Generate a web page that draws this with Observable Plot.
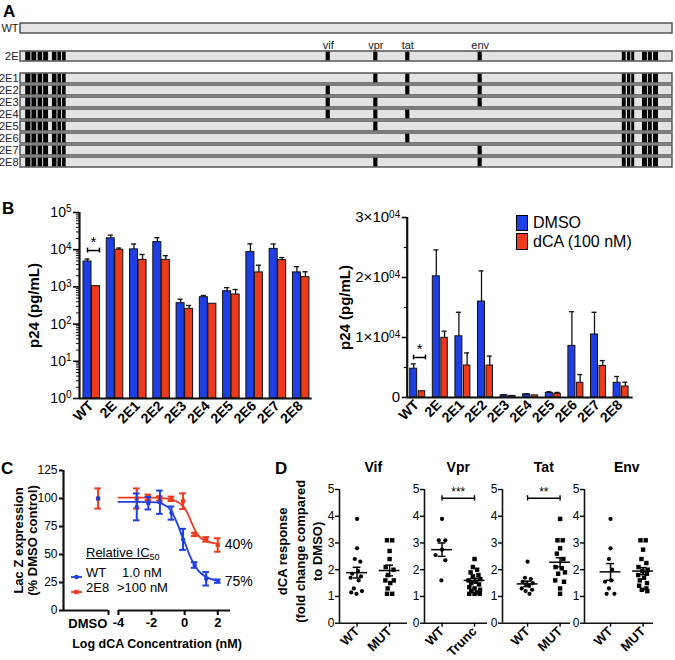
<!DOCTYPE html>
<html><head><meta charset="utf-8">
<script src="https://cdn.jsdelivr.net/npm/d3@7"></script>
<script src="https://cdn.jsdelivr.net/npm/@observablehq/plot@0.6"></script>
<style>
body{margin:0;background:#fff;}
#fig{position:relative;width:675px;height:660px;font-family:"Liberation Sans",Arial,Helvetica,sans-serif;color:#000;overflow:hidden;background:#fff}
#fig svg{position:absolute;}
.plab{position:absolute;font-weight:bold;font-size:17px;line-height:1}
.html{position:absolute;white-space:nowrap;line-height:1}
.pa g[aria-label="y-axis tick label"], .pa g[aria-label="y-axis tick label"] text{font-size:11px !important;}
.bl g[aria-label="y-axis tick label"], .bl g[aria-label="y-axis tick label"] text{font-size:14px !important;}
.bl g[aria-label="x-axis tick label"], .bl g[aria-label="x-axis tick label"] text{font-size:14px !important;font-weight:bold !important;}
.br g[aria-label="y-axis tick label"], .br g[aria-label="y-axis tick label"] text{font-size:15px !important;}
.br g[aria-label="x-axis tick label"], .br g[aria-label="x-axis tick label"] text{font-size:14px !important;font-weight:bold !important;}
.pc g[aria-label="y-axis tick label"], .pc g[aria-label="y-axis tick label"] text{font-size:12px !important;}
.pc g[aria-label="x-axis tick label"], .pc g[aria-label="x-axis tick label"] text{font-size:13px !important;font-weight:bold !important;}
.pd g[aria-label="y-axis tick label"], .pd g[aria-label="y-axis tick label"] text{font-size:12px !important;}
.pd g[aria-label="x-axis tick label"], .pd g[aria-label="x-axis tick label"] text{font-size:13px !important;font-weight:bold !important;}
tspan.sup{font-size:10px;}
</style></head><body><div id="fig"></div>
<script>
// ---------------- DATA ----------------
// Panel A: genome maps
const aRows = ["2E1","2E2","2E3","2E4","2E5","2E6","2E7","2E8"];
const aGenes = ["vif","vpr","tat","env"];
const aGenePos = [472, 545, 594, 705];               // position on a 0–1000 map scale
const aRowMutations = [["vpr","tat","env"],["vif","tat","env"],["vif","vpr","env"],["vif","vpr","tat"],["vpr"],["tat"],["env"],["vpr","env"]];
const aStripesLeft = [[8,16],[17.5,25],[27,34],[35.5,43],[49,56],[57.5,63],[64.5,70]];
const aStripesRight = [[923,929],[931,936],[937.5,942],[954,961.5],[963,969],[971,978.5]];

// Panel B: p24 (pg/mL)
const groups = ["WT","2E","2E1","2E2","2E3","2E4","2E5","2E6","2E7","2E8"];
const p24DMSO    = [4800, 20200, 10200, 16000, 365, 528, 765, 8600, 10500, 2450];
const p24DMSOErr = [800, 4400, 4000, 5100, 100, 60, 190, 5700, 3700, 1050];
const p24DCA     = [1050, 9950, 5330, 5330, 257, 352, 625, 2450, 5250, 1830];
const p24DCAErr  = [0, 1100, 2100, 1570, 60, 0, 225, 1380, 900, 720];
const bSeries = ["DMSO", "dCA (100 nM)"];
const bLogTicks = [1, 10, 100, 1000, 10000, 100000];
const bLinTicks = [0, 10000, 20000, 30000];
const bLinMinor = [5000, 15000, 25000];

// Panel C: Lac Z expression (% DMSO control)
const logConc   = [-2.893, -2.194, -1.495, -0.796, -0.097, 0.602, 1.301, 2.0];
const wtLacZ    = [92.5, 95.8, 96.7, 87, 63.5, 40.6, 28.3, 26.2];
const wtLacZErr = [12, 5.6, 10.4, 5.9, 9.4, 2.5, 6, 1.5];
const e8LacZ    = [100, 101, 100, 99.7, 97.6, 67.9, 63.5, 58.5];
const e8LacZErr = [9, 2.5, 2, 2, 7, 1.5, 2, 6];
const dmsoLacZ    = [100, 100];   // WT, 2E8
const dmsoLacZErr = [0, 9];
const fitX  = [-4, -3, -2, -1.5, -1.2, -1, -0.8, -0.6, -0.4, -0.2, 0, 0.2, 0.4, 0.6, 0.8, 1, 1.3, 1.6, 2];
const fitWT = [97, 97, 96.8, 96, 94, 92, 88.5, 83, 76, 68, 61, 53, 46, 40.5, 36, 33, 30, 28, 27];
const fitE8 = [100.8, 100.8, 100.7, 100.5, 100.2, 99.7, 99, 98, 96.6, 94.5, 91.5, 86, 79, 72.5, 67.5, 64.5, 62, 60.5, 59.5];
const cXTicks = [-4, -2, 0, 2];
const cYTicks = [0, 25, 50, 75, 100, 125];
const cPctLabels = ["75%", "40%"];

// Panel D: dCA response (fold change compared to DMSO)
const dPanels = ["Vif","Vpr","Tat","Env"];
const dGroups = [["WT","MUT"],["WT","Trunc"],["WT","MUT"],["WT","MUT"]];
const vifWT    = [3.9,2.8,2.4,2.3,1.95,1.85,1.75,1.7,1.6,1.3,1.2,1.15,1.1];
const vifMUT   = [3.1,3.1,2.7,2.4,2.1,2.0,1.8,1.6,1.6,1.5,1.3,1.1,1.1];
const vprWT    = [3.9,3.1,3.1,2.75,2.55,2.35,1.6];
const vprTrunc = [2.4,2.1,2.0,1.9,1.8,1.75,1.65,1.6,1.55,1.5,1.45,1.35,1.3,1.25,1.2,1.15,1.1,1.1,1.1];
const tatWT    = [2.3,1.7,1.65,1.55,1.5,1.45,1.4,1.3,1.25,1.2,1.1];
const tatMUT   = [3.9,3.1,3.1,2.8,2.6,2.4,2.1,2.05,1.9,1.85,1.6,1.55,1.3,1.1];
const envWT    = [3.9,2.8,2.4,2.0,1.6,1.55,1.3,1.1,1.1];
const envMUT   = [3.1,3.1,2.75,2.4,2.25,2.1,2.0,1.95,1.85,1.8,1.7,1.6,1.5,1.4,1.3,1.25,1.2];
const dMean = [[1.89,1.97],[2.75,1.6],[1.47,2.28],[1.92,1.95]];
const dSEM  = [[0.2,0.2],[0.25,0.08],[0.1,0.17],[0.31,0.13]];
const dSig  = ["", "***", "**", ""];
const dYTicks = [0,1,2,3,4,5];

// ---------------- LAYOUT ----------------
// horizontal scatter of the dots (category units)
const dSpread = [
  [[0,0,-0.07,0.1,0.03,-0.15,0.12,-0.2,0.05,-0.1,0.15,-0.18,-0.02],[-0.08,0.08,0,0,-0.12,0.12,-0.05,-0.13,0.13,0.02,-0.06,-0.08,0.08]],
  [[0,-0.1,0.1,0,-0.2,0.1,-0.02],[0,-0.05,0.08,-0.12,0.12,-0.05,0.18,-0.18,0.05,-0.1,0.14,-0.16,0,0.17,-0.1,0.08,-0.16,0,0.16]],
  [[0,-0.08,0.1,-0.15,0.16,-0.04,0.05,-0.18,0.14,-0.06,0.06],[0,-0.08,0.08,0,-0.1,0.1,-0.14,0.05,0.15,-0.06,-0.15,0.12,0,0]],
  [[0,0,-0.05,0.05,0.02,-0.17,-0.05,-0.12,0.12],[-0.08,0.08,0,-0.05,0.1,-0.14,0.14,-0.02,0.12,-0.15,0.03,-0.1,0.12,-0.12,0.1,-0.04,0.13]]
];
const BLUE = "#1e3fe4", RED = "#ec3a1d", INK = "#111";
const FONT = "'Liberation Sans', Arial, Helvetica, sans-serif";
const baseStyle = {background: "transparent", fontFamily: FONT, overflow: "visible", color: "#000"};
const fig = document.getElementById("fig");
function place(el, left, top) { el.style.left = left + "px"; el.style.top = top + "px"; fig.appendChild(el); }
function html(s, left, top, css) { const d = document.createElement("div"); d.className = "html"; d.innerHTML = s; d.style.cssText += css || ""; place(d, left, top); return d; }
const vlabel = (s, dx, size, dy = 0) => Plot.text([s], {text: d => d, frameAnchor: "left", textAnchor: "middle", lineAnchor: "middle", rotate: -90, dx, dy, fontSize: size, fontWeight: "bold"});
// tick labels written as "base^exp" are turned into real superscripts after rendering
function superscripts(svg) {
  const ns = "http://www.w3.org/2000/svg";
  svg.querySelectorAll('g[aria-label="y-axis tick label"] text').forEach(t => {
    const s = t.textContent;
    if (!s.includes("^")) return;
    const [base, exp] = s.split("^");
    t.textContent = "";
    const a = document.createElementNS(ns, "tspan"); a.textContent = base; t.appendChild(a);
    const b = document.createElementNS(ns, "tspan"); b.textContent = exp; b.setAttribute("class", "sup"); b.setAttribute("dy", "-0.45em"); t.appendChild(b);
  });
  return svg;
}

// panel letters
[["A",3,3],["B",2,200],["C",1,460],["D",275,460]].forEach(([t,l,tp]) => { const d = document.createElement("div"); d.className = "plab"; d.textContent = t; place(d, l, tp); });

// ---------------- PANEL A ----------------
function aPlot(rows, muts, stripes, top, mt, mb, bandH, geneLabels) {
  const n = rows.length;
  const height = mt + mb + (n === 1 ? bandH : n * 12.5);
  const recs = rows.map(r => ({row: r}));
  const st = stripes ? rows.flatMap(r => [...aStripesLeft, ...aStripesRight].map(([a, b]) => ({row: r, a, b}))) : [];
  const mu = rows.flatMap((r, k) => muts[k].map(g => ({row: r, p: aGenePos[aGenes.indexOf(g)]})));
  const marks = [
    Plot.barX(recs, {y: "row", x1: () => 0, x2: () => 1000, fill: "#e3e3e3", stroke: "#4a4a4a", strokeWidth: 1.4}),
    Plot.barX(st, {y: "row", x1: "a", x2: "b", fill: "#000", insetTop: 0.7, insetBottom: 0.7}),
    Plot.barX(mu, {y: "row", x1: d => d.p - 3.2, x2: d => d.p + 3.2, fill: "#000", insetTop: 0.7, insetBottom: 0.7}),
    Plot.axisY({tickSize: 0, tickPadding: 2, fontSize: 11, fill: "#222", label: null})
  ];
  if (geneLabels) marks.push(Plot.text(aGenes, {x: (d, i) => aGenePos[i], y: () => rows[0], dy: -11, text: d => d, fontSize: 11, fill: "#222"}));
  const svg = Plot.plot({
    className: "pa",
    width: 675, height, marginLeft: 20, marginRight: 3, marginTop: mt, marginBottom: mb,
    style: baseStyle,
    x: {domain: [0, 1000], axis: null},
    y: {domain: rows, paddingInner: n === 1 ? 0 : 0.2, paddingOuter: n === 1 ? 0 : 0.1},
    marks
  });
  place(svg, 0, top);
}
aPlot(["WT"], [[]], false, 18, 5, 5, 10, false);
aPlot(["2E"], [aGenes], true, 36, 15, 3, 10, true);
aPlot(aRows, aRowMutations, true, 66, 3.75, 3, 0, false);

// ---------------- PANEL B ----------------
function bRecords(k) {
  const v = k === 0 ? p24DMSO : p24DCA, e = k === 0 ? p24DMSOErr : p24DCAErr;
  return groups.map((g, i) => ({g, i, v: v[i], e: e[i]}));
}
function barMarks(ext, capHalf, base) {
  const marks = [];
  [0, 1].forEach(k => {
    const recs = bRecords(k), [a, b] = ext[k], c = (a + b) / 2, fill = k === 0 ? BLUE : RED;
    marks.push(Plot.rectY(recs, {x1: d => d.i + a, x2: d => d.i + b, y1: () => base, y2: "v", fill, stroke: INK, strokeWidth: 1}));
    const er = recs.filter(d => d.e > 0);
    marks.push(Plot.ruleX(er, {x: d => d.i + c, y1: "v", y2: d => d.v + d.e, stroke: INK, strokeWidth: 1.3}));
    marks.push(Plot.ruleY(er, {y: d => d.v + d.e, x1: d => d.i + c - capHalf, x2: d => d.i + c + capHalf, stroke: INK, strokeWidth: 1.3}));
  });
  return marks;
}
const minorLog = [1, 10, 100, 1000, 10000].flatMap(p => [2,3,4,5,6,7,8,9].map(m => m * p));
const bSigLog = 9500, bSigLin = 6670;
const bLeft = Plot.plot({
  className: "bl",
  width: 330, height: 240, marginLeft: 79, marginRight: 18.3, marginTop: 17, marginBottom: 37,
  style: baseStyle,
  x: {type: "linear", domain: [0, 10]},
  y: {type: "log", domain: [1, 100000]},
  marks: [
    ...barMarks([[0.172, 0.516], [0.537, 0.881]], 0.11, 1),
    Plot.ruleY(minorLog, {y: d => d, x1: () => -0.13, x2: () => 0, strokeWidth: 1, stroke: INK}),
    Plot.ruleX([0], {y1: () => 1, y2: () => 100000, strokeWidth: 2.2, stroke: INK}),
    Plot.ruleY([1], {x1: () => 0, x2: () => 10, strokeWidth: 2.2, stroke: INK}),
    Plot.axisY({ticks: bLogTicks, tickFormat: d => "10^" + Math.round(Math.log10(d)), tickSize: 6, tickPadding: 2, fontSize: 14, strokeWidth: 1.6, label: null}),
    Plot.axisX({ticks: groups.map((g, i) => i + 0.5), tickFormat: d => groups[Math.floor(d)], tickRotate: -45, tickSize: 0, tickPadding: 5, fontSize: 14, fontWeight: "bold", label: null}),
    vlabel("p24 (pg/mL)", -45, 15),
    Plot.ruleY([bSigLog], {y: d => d, x1: () => 0.344, x2: () => 0.86, strokeWidth: 1.5}),
    Plot.ruleX([0.344, 0.86], {x: d => d, y1: () => bSigLog * 0.86, y2: () => bSigLog * 1.16, strokeWidth: 1.5}),
    Plot.text(["*"], {text: d => d, x: () => 0.6, y: () => bSigLog, dy: -8, fontSize: 15})
  ]
});
place(superscripts(bLeft), 0, 195);

const bRight = Plot.plot({
  className: "br",
  width: 345, height: 240, marginLeft: 76.7, marginRight: 42.3, marginTop: 22, marginBottom: 38,
  style: baseStyle,
  x: {type: "linear", domain: [0, 10]},
  y: {domain: [0, 30000]},
  marks: [
    ...barMarks([[0.133, 0.442], [0.509, 0.796]], 0.11, 0),
    Plot.ruleY(bLinMinor, {y: d => d, x1: () => -0.13, x2: () => 0, strokeWidth: 1.2, stroke: INK}),
    Plot.ruleX([0], {y1: () => 0, y2: () => 30000, strokeWidth: 2.2, stroke: INK}),
    Plot.ruleY([0], {x1: () => 0, x2: () => 10, strokeWidth: 2.2, stroke: INK}),
    Plot.axisY({ticks: bLinTicks, tickFormat: d => d === 0 ? "0" : `${d / 10000}×10^04`, tickSize: 5, tickPadding: 2, fontSize: 15, strokeWidth: 1.6, label: null}),
    Plot.axisX({ticks: groups.map((g, i) => i + 0.42), tickFormat: d => groups[Math.floor(d)], tickRotate: -45, tickSize: 0, tickPadding: 5, fontSize: 14, fontWeight: "bold", label: null}),
    vlabel("p24 (pg/mL)", -62, 15),
    Plot.ruleY([bSigLin], {y: d => d, x1: () => 0.28, x2: () => 0.81, strokeWidth: 1.5}),
    Plot.ruleX([0.28, 0.81], {x: d => d, y1: () => bSigLin - 400, y2: () => bSigLin + 400, strokeWidth: 1.5}),
    Plot.text(["*"], {text: d => d, x: () => 0.55, y: () => bSigLin, dy: -8, fontSize: 15})
  ]
});
place(superscripts(bRight), 330, 195);

// legend B
html(`<div style="display:flex;align-items:center;height:19px"><span style="display:inline-block;width:10px;height:14px;background:${BLUE};border:1px solid #000;margin-right:5px"></span>${bSeries[0]}</div>
<div style="display:flex;align-items:center;height:19px"><span style="display:inline-block;width:10px;height:15px;background:${RED};border:1px solid #000;margin-right:5px"></span>${bSeries[1]}</div>`, 516, 213, "font-size:16px;");

// ---------------- PANEL C ----------------
const dmsoX = -5.23;
const cWT = logConc.map((x, i) => ({x, m: wtLacZ[i], e: wtLacZErr[i]})).concat([{x: dmsoX, m: dmsoLacZ[0], e: dmsoLacZErr[0]}]);
const cE8 = logConc.map((x, i) => ({x, m: e8LacZ[i], e: e8LacZErr[i]})).concat([{x: dmsoX, m: dmsoLacZ[1], e: dmsoLacZErr[1]}]);
function cMarks(recs, color, symbol, r) {
  const er = recs.filter(d => d.e > 0);
  return [
    Plot.ruleX(er, {x: "x", y1: d => d.m - d.e, y2: d => d.m + d.e, stroke: color, strokeWidth: 2}),
    Plot.ruleY(er, {y: d => d.m - d.e, x1: d => d.x - 0.2, x2: d => d.x + 0.2, stroke: color, strokeWidth: 2}),
    Plot.ruleY(er, {y: d => d.m + d.e, x1: d => d.x - 0.2, x2: d => d.x + 0.2, stroke: color, strokeWidth: 2}),
    Plot.dot(recs, {x: "x", y: "m", fill: color, symbol, r})
  ];
}
const cPlot = Plot.plot({
  className: "pc",
  width: 275, height: 205, marginLeft: 63, marginRight: 45, marginTop: 15, marginBottom: 50,
  style: baseStyle,
  x: {domain: [-7.32, 2.77]},
  y: {domain: [0, 125]},
  marks: [
    Plot.ruleX([-7.32], {y1: () => 0, y2: () => 125, strokeWidth: 2.2, stroke: INK}),
    Plot.ruleY([0], {x1: () => -7.32, x2: () => -4.6, strokeWidth: 2.2, stroke: INK}),
    Plot.ruleY([0], {x1: () => -4, x2: () => 2.77, strokeWidth: 2.2, stroke: INK}),
    Plot.ruleX([-4.6], {y1: () => 0, y2: () => -4.5, strokeWidth: 2, stroke: INK}),
    Plot.axisY({ticks: cYTicks, tickFormat: d => String(d), tickSize: 4, tickPadding: 2, fontSize: 12, strokeWidth: 2, label: null}),
    Plot.axisX({ticks: cXTicks, tickFormat: d => String(d), tickSize: 5, tickPadding: 2, fontSize: 13, fontWeight: "bold", strokeWidth: 2, label: null}),
    Plot.text(["DMSO"], {text: d => d, x: () => -5.85, frameAnchor: "bottom", lineAnchor: "middle", dy: 13, fontSize: 13, fontWeight: "bold"}),
    Plot.line(fitX.map((x, i) => ({x, y: fitE8[i]})), {x: "x", y: "y", stroke: RED, strokeWidth: 1.8, curve: "monotone-x"}),
    Plot.line(fitX.map((x, i) => ({x, y: fitWT[i]})), {x: "x", y: "y", stroke: BLUE, strokeWidth: 1.8, curve: "monotone-x"}),
    ...cMarks(cE8, RED, "square", 2.4),
    ...cMarks(cWT, BLUE, "circle", 2.2),
    Plot.text([{x: logConc[7], y: wtLacZ[7], t: cPctLabels[0]}, {x: logConc[7], y: e8LacZ[7], t: cPctLabels[1]}], {x: "x", y: "y", text: "t", dx: 7, textAnchor: "start", fontSize: 14}),
    vlabel("Lac Z expression", -45, 13),
    vlabel("(% DMSO control)", -31, 13),
    Plot.text(["Log dCA Concentration (nM)"], {text: d => d, frameAnchor: "bottom", lineAnchor: "middle", dy: 33, dx: 10, fontSize: 12.5, fontWeight: "bold"})
  ]
});
place(cPlot, 0, 455);

// legend C
html(`<span style="text-decoration:underline">Relative IC<span style="font-size:9px;position:relative;top:3px">50</span></span>`, 86, 546, "font-size:13px;");
html(`<svg width="12" height="8" style="position:static;display:inline-block;vertical-align:middle"><line x1="0" x2="11" y1="4" y2="4" stroke="${BLUE}" stroke-width="1.8"/><circle cx="5.5" cy="4" r="2.3" fill="${BLUE}"/></svg>`, 71, 568);
html(`<svg width="12" height="8" style="position:static;display:inline-block;vertical-align:middle"><line x1="0" x2="11" y1="4" y2="4" stroke="${RED}" stroke-width="1.8"/><rect x="3.3" y="1.8" width="4.4" height="4.4" fill="${RED}"/></svg>`, 71, 583);
html("WT", 86, 566, "font-size:13px;");
html("1.0 nM", 122, 566, "font-size:13px;");
html("2E8", 86, 581, "font-size:13px;");
html("&gt;100 nM", 117, 581, "font-size:13px;");

// ---------------- PANEL D ----------------
const dValues = [[vifWT, vifMUT], [vprWT, vprTrunc], [tatWT, tatMUT], [envWT, envMUT]];
const dFrames = [ // svg left, marginLeft, x-range end (page), domain
  [270, 69, 407, [0.46, 2.55]],
  [400, 24, 487, [0.46, 2.4]],
  [480, 22, 570, [0.23, 2.32]],
  [560, 24, 653, [0.2, 2.32]]
];
dPanels.forEach((name, k) => {
  const [left, mL, end, dom] = dFrames[k];
  const width = end + 6 - left;
  const pts = [0, 1].flatMap(j => dValues[k][j].map((v, n) => ({j: j + 1, v, o: dSpread[k][j][n]})));
  const stats = [0, 1].map(j => ({c: j + 1, m: dMean[k][j], s: dSEM[k][j]}));
  const marks = [
    Plot.ruleX([dom[0]], {y1: () => 0, y2: () => 5, strokeWidth: 1.6, stroke: INK}),
    Plot.ruleY([0], {x1: () => dom[0], x2: () => dom[1], strokeWidth: 1.6, stroke: INK}),
    Plot.axisY({ticks: dYTicks, tickFormat: d => String(d), tickSize: 4, tickPadding: 1, fontSize: 12, strokeWidth: 1.4, label: null}),
    Plot.axisX({ticks: [1, 2], tickFormat: d => dGroups[k][d - 1], tickRotate: -45, tickSize: 4, tickPadding: 2, fontSize: 13, fontWeight: "bold", strokeWidth: 1.4, label: null}),
    Plot.dot(pts.filter(d => d.j === 1), {x: d => d.j + d.o, y: "v", fill: "#000", symbol: "circle", r: 2.1}),
    Plot.dot(pts.filter(d => d.j === 2), {x: d => d.j + d.o, y: "v", fill: "#000", symbol: "square", r: 2.5}),
    Plot.ruleY(stats, {y: "m", x1: d => d.c - 0.32, x2: d => d.c + 0.32, strokeWidth: 1.5}),
    Plot.ruleX(stats, {x: "c", y1: d => d.m - d.s, y2: d => d.m + d.s, strokeWidth: 1.5}),
    Plot.ruleY(stats, {y: d => d.m - d.s, x1: d => d.c - 0.12, x2: d => d.c + 0.12, strokeWidth: 1.5}),
    Plot.ruleY(stats, {y: d => d.m + d.s, x1: d => d.c - 0.12, x2: d => d.c + 0.12, strokeWidth: 1.5}),
    Plot.text([name], {text: d => d, x: () => 1.5, frameAnchor: "top", lineAnchor: "middle", dy: -22, fontSize: 14, fontWeight: "bold"})
  ];
  if (dSig[k]) {
    marks.push(
      Plot.ruleY([4.67], {x1: () => 1, x2: () => 2, strokeWidth: 1.4}),
      Plot.ruleX([1, 2], {y1: () => 4.57, y2: () => 4.77, strokeWidth: 1.4}),
      Plot.text([dSig[k]], {text: d => d, x: () => 1.5, y: () => 4.67, dy: -6, fontSize: 12})
    );
  }
  if (k === 0) {
    marks.push(
      vlabel("dCA response", -57, 13, -5),
      vlabel("(fold change compared", -39, 13, -5),
      vlabel("to DMSO)", -22, 13, -5)
    );
  }
  const svg = Plot.plot({
    className: "pd",
    width, height: 205, marginLeft: mL, marginRight: 6, marginTop: 34, marginBottom: 37.3,
    style: baseStyle,
    x: {domain: dom},
    y: {domain: [0, 5]},
    marks
  });
  place(svg, left, 455);
});
</script></body></html>
